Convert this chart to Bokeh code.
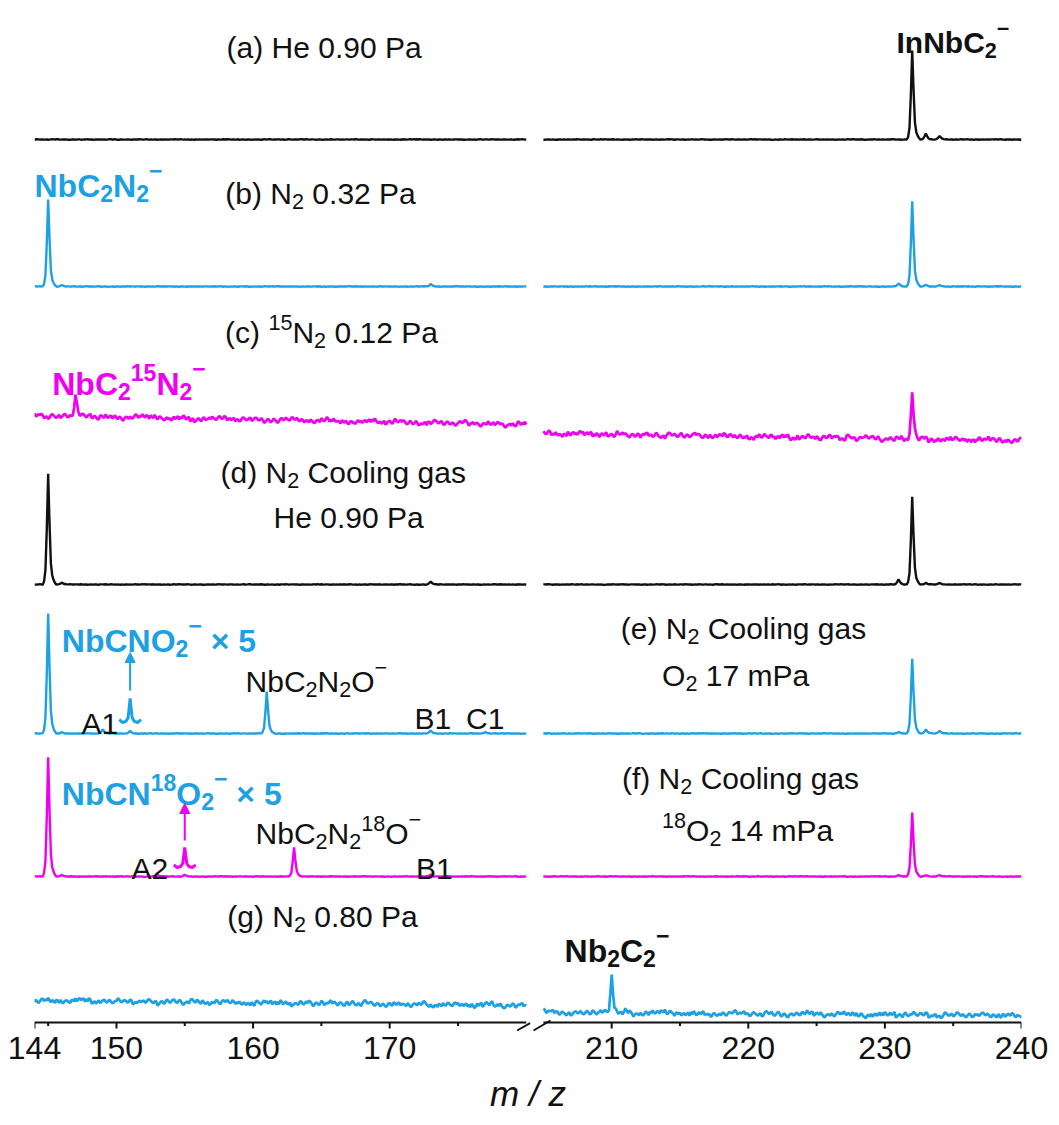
import numpy as np
from bokeh.plotting import figure
from bokeh.models import Range1d, FixedTicker, ColumnDataSource, Arrow, NormalHead
from bokeh.embed import file_html
from bokeh.resources import INLINE
from bokeh.core.properties import value

# ---------------- data ----------------
LEFT_MZ = [144.0, 180.0]
RIGHT_MZ = [205.0, 240.0]
MZ_STEP = 0.1
BREAK_SHIFT = 23.75          # right panel is drawn shifted left by this (axis break)

TRACES = ["a", "b", "c", "d", "e", "f", "g"]
# stacked baseline level of every spectrum (start / end of each panel)
BASE_LEFT_START = [883, 736, 607, 438, 289, 146, 22]
BASE_LEFT_END = [883, 736, 598, 438, 289, 146, 17]
BASE_RIGHT_START = [883, 736, 589, 438, 289, 146, 10]
BASE_RIGHT_END = [883, 736, 582, 438, 289, 146, 7]
NOISE_LEVEL = [0.3, 0.3, 3.5, 0.3, 0.3, 0.3, 3.5]

PEAK_MZ = {
    "a": [232, 233, 234],
    "b": [145, 146, 173, 231, 232, 233, 234],
    "c": [147, 232],
    "d": [145, 146, 173, 231, 232, 233, 234],
    "e": [145, 146, 149, 151, 161, 173, 177, 231, 232, 233, 234],
    "f": [145, 146, 153, 155, 163, 173, 231, 232, 233, 234],
    "g": [210, 211],
}
PEAK_H = {
    "a": [89, 6, 3.5],
    "b": [87, 1.5, 2.5, 3, 85, 2, 1.5],
    "c": [20, 46],
    "d": [111, 2, 3, 5, 88, 1.5, 1.5],
    "e": [120, 1.5, 4, 2.5, 42, 3, 1.5, 1.5, 75, 4, 2.5],
    "f": [119, 1.5, 1.5, 1.5, 29, 2, 1.5, 64, 1.5, 1.5],
    "g": [38, 3],
}
# peak profile (relative height every 0.1 m/z, from -0.4 to +0.6)
PEAK_SHAPE = [0.0, 0.03, 0.13, 0.5, 1.0, 0.55, 0.19, 0.08, 0.04, 0.015, 0.0]
PEAK_CENTER = 4
# detector noise pattern (relative units)
NOISE = [3, -2, 5, 1, -4, -1, 2, -3, 0, 4, -5, -2, 1, 3, -1, -4, 2, 5, 0, -3,
         -1, 2, -2, 4, 1, -3, -5, -1, 3, 2, -2, 0, 5, 3, -4, -2, 1, -1, 2, 4,
         -3, 0, 1, -4, -2, 3, 5, 2, -1, -3, 0, 2, -5, -3, 1, 4, 2, -2, -1, 3,
         0, -4, -2, 2, 5, 1, -3, -1, 4, 2, -2, -5, -1, 1, 3, -2, 0, 4, 1, -3,
         -4, 2, 3, -1, -2, 5, 0, -3, 1, 2, -4, -1, 3, 1, -2, 4, 2, -3, -5, 0,
         2, 1, -2, 3, -1, -4, 0, 5, 2, -3, 1, -2, 4, -1, -3, 2, 0, -4, 3, 1,
         -2, 5, -1, -3, 2, 4, 0, -2, -5, 1, 3, -1, 2, -4, 0, 3, -2, 1, 4, -3]
NOISE_PHASE = [0, 17, 33, 51, 68, 85, 102]

# x5 magnified insets and their arrows
INSET_TRACE = ["e", "f"]
INSET_MZ = [151, 155]
INSET_H = [24, 20]
INSET_GAP = [11, 9]
INSET_DX = [-0.8, -0.55, -0.3, -0.15, -0.07, 0.0, 0.07, 0.15, 0.3, 0.55, 0.8]
INSET_SHAPE = [0.12, 0.0, 0.05, 0.2, 0.6, 1.0, 0.6, 0.2, 0.05, 0.0, 0.12]
ARROW_Y0 = [332, 182]
ARROW_Y1 = [370, 219]

TICKS_LEFT = [144, 150, 160, 170]
TICKS_RIGHT = [210, 220, 230, 240]
MINOR_LEFT = [145, 155, 165, 175]
MINOR_RIGHT = [215, 225, 235]

# ---------------- styles ----------------
BLACK = "#111111"
BLUE = "#1EA0E4"
MAGENTA = "#F000F0"
TRACE_COLOR = [BLACK, BLUE, MAGENTA, BLACK, BLUE, MAGENTA, BLUE]
FONT = "Liberation Sans"
NS = 30      # normal label size
BS = 32      # bold label size

p = figure(width=1051, height=1122, output_backend="svg", toolbar_location=None,
           x_range=Range1d(LEFT_MZ[0], RIGHT_MZ[1] - BREAK_SHIFT),
           y_range=Range1d(-14, 1022), y_axis_location=None,
           min_border_left=34, min_border_right=30, min_border_top=0, min_border_bottom=86)
p.outline_line_color = None
p.xgrid.visible = False
p.ygrid.visible = False
p.background_fill_color = "white"


def build(lo, hi, b0, b1, mzs, hs, amp, phase):
    n = int(round((hi - lo) / MZ_STEP)) + 1
    idx = np.arange(n)
    mz = lo + idx * MZ_STEP
    y = b0 + (b1 - b0) * idx / (n - 1)
    for c, h in zip(mzs, hs):
        if lo <= c <= hi:
            k0 = int(round((c - lo) / MZ_STEP))
            for j, f in enumerate(PEAK_SHAPE):
                k = k0 + j - PEAK_CENTER
                if 0 <= k < n:
                    y[k] += h * f
    fast = np.array([NOISE[(i + phase) % len(NOISE)] for i in idx])
    slow = np.array([NOISE[(i // 6 + phase) % len(NOISE)] for i in idx])
    noise = (0.65 * fast + 0.45 * slow) / 5.0 * amp
    return mz, y + noise


for i, t in enumerate(TRACES):
    lw = 2.7 if NOISE_LEVEL[i] > 1 else 2.4
    mz, y = build(LEFT_MZ[0], LEFT_MZ[1], BASE_LEFT_START[i], BASE_LEFT_END[i],
                  PEAK_MZ[t], PEAK_H[t], NOISE_LEVEL[i], NOISE_PHASE[i])
    p.line(mz, y, line_color=TRACE_COLOR[i], line_width=lw)
    mz, y = build(RIGHT_MZ[0], RIGHT_MZ[1], BASE_RIGHT_START[i], BASE_RIGHT_END[i],
                  PEAK_MZ[t], PEAK_H[t], NOISE_LEVEL[i], NOISE_PHASE[i] + 70)
    p.line(mz - BREAK_SHIFT, y, line_color=TRACE_COLOR[i], line_width=lw)

for k, t in enumerate(INSET_TRACE):
    i = TRACES.index(t)
    base = BASE_LEFT_START[i] + INSET_GAP[k]
    xs = [INSET_MZ[k] + d for d in INSET_DX]
    ys = [base + INSET_H[k] * f for f in INSET_SHAPE]
    p.line(xs, ys, line_color=TRACE_COLOR[i], line_width=3)
    p.add_layout(Arrow(end=NormalHead(size=10, fill_color=TRACE_COLOR[i], line_color=TRACE_COLOR[i]),
                       x_start=INSET_MZ[k], y_start=ARROW_Y0[k], x_end=INSET_MZ[k], y_end=ARROW_Y1[k],
                       line_color=TRACE_COLOR[i], line_width=2))

# ---------------- broken x axis (line, ticks and break marks drawn in the frame) ----------------
r_lo = RIGHT_MZ[0] - BREAK_SHIFT
r_hi = RIGHT_MZ[1] - BREAK_SHIFT
ax_x0 = [LEFT_MZ[0], r_lo, LEFT_MZ[1] - 0.67, r_lo - 0.72]
ax_x1 = [LEFT_MZ[1], r_hi, LEFT_MZ[1] + 0.28, r_lo + 0.52]
ax_y0 = [0, 0, -8, -8]
ax_y1 = [0, 0, -0.7, 2]
p.segment(ax_x0, ax_y0, ax_x1, ax_y1, line_color=BLACK, line_width=2)

ticks = TICKS_LEFT + [t - BREAK_SHIFT for t in TICKS_RIGHT]
minors = MINOR_LEFT + [t - BREAK_SHIFT for t in MINOR_RIGHT]
p.segment(ticks, [0] * len(ticks), ticks, [-6] * len(ticks), line_color=BLACK, line_width=2)
p.segment(minors, [0] * len(minors), minors, [-3.5] * len(minors), line_color=BLACK, line_width=2)

ax = p.xaxis[0]
ax.ticker = FixedTicker(ticks=ticks, minor_ticks=[])
ax.major_label_overrides = {t - BREAK_SHIFT: str(t) for t in TICKS_RIGHT}
ax.axis_line_color = None
ax.major_tick_line_color = None
ax.minor_tick_line_color = None
ax.major_tick_in = 0
ax.major_tick_out = 0
ax.minor_tick_in = 0
ax.minor_tick_out = 0
ax.major_label_text_font = FONT
ax.major_label_text_font_size = "32px"
ax.major_label_text_color = BLACK
ax.major_label_standoff = 0
ax.axis_label = "m / z"
ax.axis_label_text_font = FONT
ax.axis_label_text_font_style = "italic"
ax.axis_label_text_font_size = "35px"
ax.axis_label_text_color = BLACK
ax.axis_label_standoff = 12

# ---------------- labels (sub/superscripts as separate text pieces) ----------------
W_REG = {' ': 278, '(': 333, ')': 333, '.': 278, '×': 584, '−': 584, 'A': 667, 'B': 667,
         'C': 722, 'H': 722, 'N': 722, 'O': 778, 'P': 667, 'I': 278, 'a': 556, 'b': 556,
         'c': 500, 'd': 556, 'e': 556, 'f': 278, 'g': 556, 'i': 222, 'l': 222, 'm': 833,
         'n': 556, 'o': 556, 's': 500, 'z': 500}
W_BOLD = {' ': 278, '×': 584, '−': 584, 'N': 722, 'b': 611, 'C': 722, 'O': 778,
          'I': 278, 'n': 611}
SUB_SCALE = 0.72


def parse(s):
    segs = []
    i = 0
    while i < len(s):
        if s[i] in "_^" and i + 1 < len(s) and s[i + 1] == "{":
            j = s.index("}", i)
            segs.append((s[i + 2:j], "sub" if s[i] == "_" else "sup"))
            i = j + 1
        else:
            j = i
            while j < len(s) and not (s[j] in "_^" and j + 1 < len(s) and s[j + 1] == "{"):
                j += 1
            segs.append((s[i:j], "n"))
            i = j
    return segs


def width(text, size, bold):
    tab = W_BOLD if bold else W_REG
    return sum(tab.get(ch, 556) for ch in text) * size / 1000.0


S = BREAK_SHIFT
LABELS = [
    ("(a) He 0.90 Pa", 165.2, 975, NS, False, BLACK, "center"),
    ("InNbC_{2}^{−}", 230.85 - S, 980, 30, True, BLACK, "left"),
    ("NbC_{2}N_{2}^{−}", 144.0, 837, BS, True, BLUE, "left"),
    ("(b) N_{2} 0.32 Pa", 164.94, 829, NS, False, BLACK, "center"),
    ("(c) ^{15}N_{2} 0.12 Pa", 165.74, 690, NS, False, BLACK, "center"),
    ("NbC_{2}^{15}N_{2}^{−}", 145.3, 639, BS, True, MAGENTA, "left"),
    ("(d) N_{2} Cooling gas", 166.6, 550, NS, False, BLACK, "center"),
    ("He 0.90 Pa", 166.99, 505, NS, False, BLACK, "center"),
    ("NbCNO_{2}^{−} × 5", 146.0, 382, BS, True, BLUE, "left"),
    ("A1", 147.44, 299, NS, False, BLACK, "left"),
    ("NbC_{2}N_{2}O^{−}", 159.45, 341, NS, False, BLACK, "left"),
    ("B1", 171.82, 304, NS, False, BLACK, "left"),
    ("C1", 175.59, 304, NS, False, BLACK, "left"),
    ("(e) N_{2} Cooling gas", 219.65 - S, 394, NS, False, BLACK, "center"),
    ("O_{2} 17 mPa", 219.07 - S, 347, NS, False, BLACK, "center"),
    ("NbCN^{18}O_{2}^{−} × 5", 146.0, 229, BS, True, BLUE, "left"),
    ("A2", 151.1, 154, NS, False, BLACK, "left"),
    ("NbC_{2}N_{2}^{18}O^{−}", 160.18, 189, NS, False, BLACK, "left"),
    ("B1", 171.93, 154, NS, False, BLACK, "left"),
    ("(f) N_{2} Cooling gas", 219.43 - S, 244, NS, False, BLACK, "center"),
    ("^{18}O_{2} 14 mPa", 219.95 - S, 192, NS, False, BLACK, "center"),
    ("(g) N_{2} 0.80 Pa", 165.08, 106, NS, False, BLACK, "center"),
    ("Nb_{2}C_{2}^{−}", 206.55 - S, 72, BS, True, BLACK, "left"),
]

cols = dict(x=[], y=[], text=[], xo=[], yo=[], fs=[], st=[], c=[])
for markup, x, y, size, bold, color, align in LABELS:
    segs = parse(markup)
    pieces = []
    cur = 0.0
    for txt, kind in segs:
        fsz = size if kind == "n" else size * SUB_SCALE
        if kind == "n":
            dy = 0.0
        elif kind == "sub":
            dy = 0.26 * size
        elif txt == "−":
            dy = -0.47 * size
        else:
            dy = -0.34 * size
        lead = len(txt) - len(txt.lstrip(" "))
        cur += width(" " * lead, fsz, bold)
        core = txt.strip(" ")
        if core:
            pieces.append((core, cur, dy, fsz))
        cur += width(txt.lstrip(" "), fsz, bold)
    start = -cur / 2.0 if align == "center" else 0.0
    for txt, off, dy, fsz in pieces:
        cols["x"].append(x)
        cols["y"].append(y)
        cols["text"].append(txt)
        cols["xo"].append(start + off)
        cols["yo"].append(dy)
        cols["fs"].append("%.1fpx" % fsz)
        cols["st"].append("bold" if bold else "normal")
        cols["c"].append(color)

p.text(x="x", y="y", text="text", x_offset="xo", y_offset="yo", text_font_size="fs",
       text_font_style="st", text_color="c", text_align="left", text_baseline="alphabetic",
       text_font=value(FONT), source=ColumnDataSource(cols))

open("out.html", "w").write(file_html(p, INLINE))
